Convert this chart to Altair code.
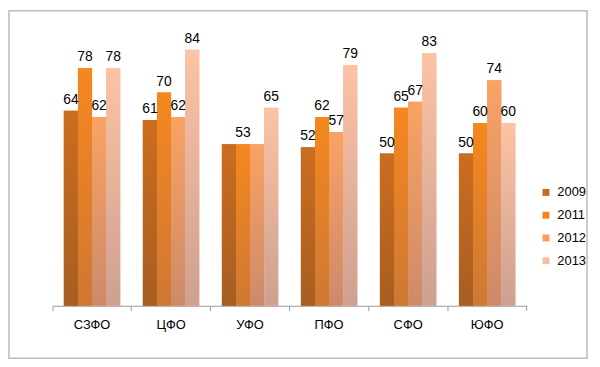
import altair as alt
import pandas as pd

cats = ["СЗФО", "ЦФО", "УФО", "ПФО", "СФО", "ЮФО"]
years = ["2009", "2011", "2012", "2013"]
v2009 = [64, 61, 53, 52, 50, 50]
v2011 = [78, 70, 53, 62, 65, 60]
v2012 = [62, 62, 53, 57, 67, 74]
v2013 = [78, 84, 65, 79, 83, 60]
# labels shown in the reference (УФО shows only one "53")
l2009 = ["64", "61", "", "52", "50", "50"]
l2011 = ["78", "70", "53", "62", "65", "60"]
l2012 = ["62", "62", "", "57", "67", "74"]
l2013 = ["78", "84", "65", "79", "83", "60"]

solid = ["#C86A1F", "#F2841F", "#F79C5E", "#F9BE9E"]
tops = ["#CB6D1F", "#F5871F", "#F9A264", "#FCC3A4"]
bottoms = ["#A65E22", "#CF7833", "#CD8A6A", "#CDA090"]

series = [v2009, v2011, v2012, v2013]
labs = [l2009, l2011, l2012, l2013]
rows = []
for yi, y in enumerate(years):
    for ci, c in enumerate(cats):
        rows.append({"cat": c, "year": y, "value": series[yi][ci], "label": labs[yi][ci]})
df = pd.DataFrame(rows)

x = alt.X("cat:N", sort=cats, scale=alt.Scale(paddingInner=0, paddingOuter=0),
          axis=alt.Axis(title=None, bandPosition=0))
xo = alt.XOffset("year:N", sort=years, scale=alt.Scale(paddingInner=0, paddingOuter=0.8))
yenc = alt.Y("value:Q", scale=alt.Scale(domain=[0, 90]), axis=None)

base = alt.Chart(df).encode(x=x, xOffset=xo, y=yenc)

bars = base.mark_bar().encode(
    color=alt.Color("year:N", sort=years,
                    scale=alt.Scale(domain=years, range=solid),
                    legend=alt.Legend(title=None, orient="none", legendX=492, legendY=156,
                                      symbolType="square", symbolSize=49, labelFontSize=13,
                                      labelFont="Liberation Sans", labelColor="#000",
                                      rowPadding=9, labelOffset=5, symbolStrokeWidth=0))
)

layers = [bars]
for yi, y in enumerate(years):
    grad = alt.Gradient(gradient="linear", x1=0, x2=0, y1=0, y2=1,
                        stops=[alt.GradientStop(color=tops[yi], offset=0),
                               alt.GradientStop(color=bottoms[yi], offset=1)])
    layers.append(base.transform_filter(alt.datum.year == y).mark_bar(fill=grad))

text = base.mark_text(baseline="bottom", dy=-4, fontSize=14, font="Liberation Sans",
                      color="#000").encode(text="label:N")
layers.append(text)

dummy = pd.DataFrame({"a": [0]})
endtick = alt.Chart(dummy).mark_rule(color="#9A9A9A").encode(
    x=alt.value(479), y=alt.value(277), y2=alt.value(282))
border = alt.Chart(dummy).mark_rect(filled=False, stroke="#BBBBBB", strokeWidth=1.5).encode(
    x=alt.value(-44), x2=alt.value(540), y=alt.value(-21), y2=alt.value(330))
layers += [endtick, border]

chart = alt.layer(*layers).properties(
    width=479, height=277,
    padding={"left": 45, "top": 22, "right": 66, "bottom": 56},
    autosize=alt.AutoSizeParams(type="none"),
    background="white",
).configure_view(stroke=None).configure_axis(
    domainColor="#9A9A9A", tickColor="#9A9A9A", tickSize=5, labelPadding=8,
    labelFont="Liberation Sans", labelFontSize=13, labelColor="#000", labelAngle=0,
)

chart.save("out.html", embed_options={"renderer": "svg", "actions": False})
